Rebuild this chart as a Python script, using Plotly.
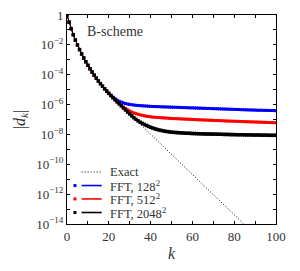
import plotly.graph_objects as go

# k values (integer wavenumbers)
k = list(range(0, 101))

# log10 |d_k|
exact_log = [0, -0.48, -0.92, -1.32, -1.68, -2.01, -2.32, -2.61, -2.88, -3.13,
             -3.37, -3.6, -3.82, -4.03, -4.23, -4.42, -4.6, -4.77, -4.94, -5.1,
             -5.25, -5.4, -5.54, -5.68, -5.82, -5.96, -6.09, -6.23, -6.36, -6.5,
             -6.63, -6.77, -6.9, -7.04, -7.17, -7.31, -7.44, -7.58, -7.71, -7.85,
             -7.98, -8.12, -8.25, -8.39, -8.52, -8.66, -8.79, -8.93, -9.06, -9.2,
             -9.33, -9.47, -9.6, -9.74, -9.87, -10.01, -10.14, -10.28, -10.41, -10.55,
             -10.68, -10.82, -10.95, -11.09, -11.22, -11.36, -11.49, -11.63, -11.76, -11.9,
             -12.03, -12.17, -12.3, -12.44, -12.57, -12.71, -12.84, -12.98, -13.11, -13.25,
             -13.38, -13.52, -13.65, -13.79, -13.92, -14.06, -14.19, -14.33, -14.46, -14.6,
             -14.73]

fft128_log = [0, -0.48, -0.92, -1.32, -1.68, -2.01, -2.32, -2.61, -2.88, -3.13,
              -3.37, -3.6, -3.82, -4.03, -4.23, -4.42, -4.6, -4.77, -4.94, -5.1,
              -5.25, -5.38, -5.5, -5.61, -5.7, -5.78, -5.84, -5.89, -5.93, -5.96,
              -5.99, -6.01, -6.03, -6.05, -6.06, -6.07, -6.08, -6.09, -6.1, -6.11,
              -6.12, -6.13, -6.13, -6.14, -6.14, -6.15, -6.15, -6.16, -6.16, -6.17,
              -6.17, -6.18, -6.18, -6.19, -6.19, -6.2, -6.2, -6.21, -6.21, -6.22,
              -6.22, -6.23, -6.23, -6.24, -6.24, -6.25, -6.25, -6.26, -6.26, -6.27,
              -6.27, -6.28, -6.28, -6.29, -6.29, -6.3, -6.3, -6.31, -6.31, -6.32,
              -6.32, -6.33, -6.33, -6.34, -6.34, -6.35, -6.35, -6.36, -6.36, -6.37,
              -6.37, -6.38, -6.38, -6.38, -6.39, -6.39, -6.39, -6.4, -6.4, -6.4,
              -6.41]

fft512_log = [0, -0.48, -0.92, -1.32, -1.68, -2.01, -2.32, -2.61, -2.88, -3.13,
              -3.37, -3.6, -3.82, -4.03, -4.23, -4.42, -4.6, -4.77, -4.94, -5.1,
              -5.25, -5.4, -5.54, -5.68, -5.82, -5.94, -6.05, -6.16, -6.26, -6.35,
              -6.43, -6.5, -6.56, -6.61, -6.65, -6.69, -6.72, -6.75, -6.78, -6.8,
              -6.82, -6.84, -6.85, -6.86, -6.87, -6.88, -6.89, -6.9, -6.91, -6.92,
              -6.93, -6.94, -6.94, -6.95, -6.96, -6.96, -6.97, -6.98, -6.98, -6.99,
              -7.0, -7.0, -7.01, -7.02, -7.02, -7.03, -7.04, -7.04, -7.05, -7.05,
              -7.06, -7.07, -7.07, -7.08, -7.08, -7.09, -7.1, -7.1, -7.11, -7.11,
              -7.12, -7.12, -7.13, -7.13, -7.14, -7.14, -7.15, -7.15, -7.16, -7.16,
              -7.17, -7.17, -7.18, -7.18, -7.19, -7.19, -7.2, -7.2, -7.21, -7.21,
              -7.22]

fft2048_log = [0, -0.48, -0.92, -1.32, -1.68, -2.01, -2.32, -2.61, -2.88, -3.13,
               -3.37, -3.6, -3.82, -4.03, -4.23, -4.42, -4.6, -4.77, -4.94, -5.1,
               -5.25, -5.4, -5.54, -5.68, -5.82, -5.96, -6.09, -6.23, -6.36, -6.5,
               -6.63, -6.76, -6.88, -6.99, -7.09, -7.18, -7.26, -7.33, -7.4, -7.46,
               -7.52, -7.57, -7.62, -7.66, -7.7, -7.73, -7.76, -7.79, -7.81, -7.83,
               -7.85, -7.86, -7.87, -7.88, -7.89, -7.9, -7.91, -7.92, -7.92, -7.93,
               -7.94, -7.94, -7.95, -7.95, -7.96, -7.96, -7.97, -7.97, -7.97, -7.98,
               -7.98, -7.98, -7.99, -7.99, -7.99, -8.0, -8.0, -8.0, -8.01, -8.01,
               -8.01, -8.02, -8.02, -8.02, -8.02, -8.03, -8.03, -8.03, -8.03, -8.04,
               -8.04, -8.04, -8.04, -8.05, -8.05, -8.05, -8.05, -8.06, -8.06, -8.06,
               -8.06]

legend_labels = ["Exact", "FFT, 128<sup>2</sup>", "FFT, 512<sup>2</sup>", "FFT, 2048<sup>2</sup>"]
series_colors = ["#0000ff", "#ff0000", "#000000"]
series_marker_sizes = [3, 3, 3.5]

y_tick_exps = list(range(0, -15, -1))
y_tick_text = ["1" if e == 0 else ("10<sup>\u2212%d</sup>" % (-e) if e % 2 == 0 else "") for e in y_tick_exps]
x_tick_vals = list(range(0, 101, 10))
x_tick_text = [str(v) if v % 20 == 0 else "" for v in x_tick_vals]

FONT = "Liberation Serif"
TXT = "#333333"

fig = go.Figure()

fig.add_trace(go.Scatter(
    x=k[:len(exact_log)], y=[10 ** v for v in exact_log], mode="lines",
    line=dict(color="black", width=1, dash="1px,2px"), name=legend_labels[0]))

for name, col, ms, vals in zip(legend_labels[1:], series_colors, series_marker_sizes,
                               [fft128_log, fft512_log, fft2048_log]):
    fig.add_trace(go.Scatter(
        x=k, y=[10 ** v for v in vals], mode="lines+markers",
        line=dict(color=col, width=1),
        marker=dict(symbol="square", size=ms, color=col, line=dict(width=0)),
        name=name))

axis_common = dict(
    showline=True, linecolor="black", linewidth=1, mirror="ticks",
    ticks="inside", ticklen=3, tickcolor="black", tickwidth=1,
    showgrid=False, zeroline=False, automargin=False, ticklabeloverflow="allow",
    tickfont=dict(family=FONT, size=13, color=TXT),
)

fig.update_xaxes(range=[0, 100], tickmode="array", tickvals=x_tick_vals, ticktext=x_tick_text,
                 title=dict(text="<i>k</i>", font=dict(family=FONT, size=16, color=TXT), standoff=5),
                 **axis_common)
fig.update_yaxes(type="log", range=[-14, 0], tickmode="array",
                 tickvals=[10 ** e for e in y_tick_exps], ticktext=y_tick_text,
                 title=dict(text="|<i>d</i><sub><i>k</i></sub>|", font=dict(family=FONT, size=16, color=TXT), standoff=6),
                 **axis_common)

fig.add_annotation(text="B-scheme", xref="paper", yref="paper", x=0.085, y=0.92,
                   xanchor="left", yanchor="middle", showarrow=False,
                   font=dict(family=FONT, size=14, color=TXT))

# compact legend drawn as paper-space decorations
row_y = [0.249, 0.184, 0.120, 0.055]
for i, label in enumerate(legend_labels):
    yy = row_y[i]
    fig.add_annotation(text=label, xref="paper", yref="paper", x=0.196, y=yy,
                       xanchor="left", yanchor="middle", showarrow=False,
                       font=dict(family=FONT, size=12.5, color=TXT))
    if i == 0:
        fig.add_shape(type="line", xref="paper", yref="paper", x0=0.070, x1=0.166, y0=yy, y1=yy,
                      line=dict(color="black", width=1, dash="1px,2px"))
    else:
        col = series_colors[i - 1]
        fig.add_shape(type="line", xref="paper", yref="paper", x0=0.070, x1=0.166, y0=yy, y1=yy,
                      line=dict(color=col, width=1.6))
        fig.add_shape(type="rect", xref="paper", yref="paper", xsizemode="pixel", ysizemode="pixel",
                      xanchor=0.038, yanchor=yy, x0=-1.5, x1=1.5, y0=-1.5, y1=1.5,
                      fillcolor=col, line=dict(width=0))

# page body has an 8px default margin, so the figure is sized/offset to compensate
fig.update_layout(
    width=292, height=263,
    margin=dict(l=59, r=24, t=7, b=47),
    paper_bgcolor="white", plot_bgcolor="white",
    showlegend=False,
)

fig.write_html("out.html")
